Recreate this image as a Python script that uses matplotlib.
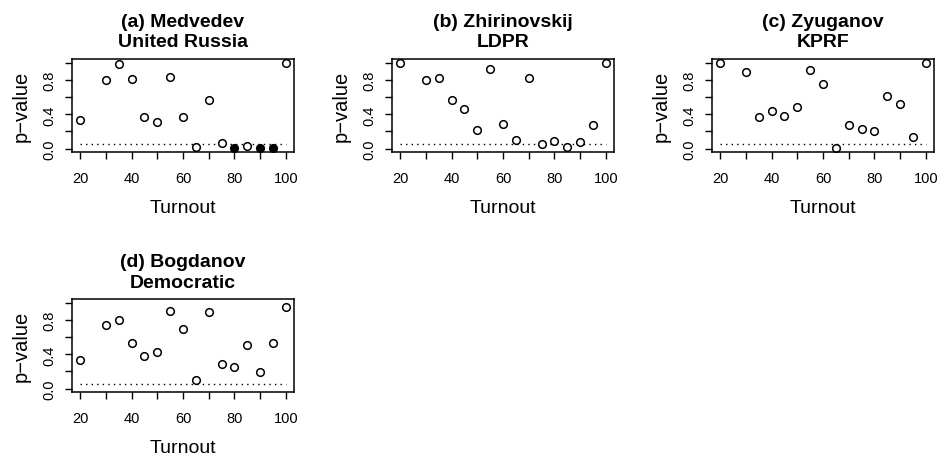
import matplotlib
matplotlib.use("Agg")
import matplotlib.pyplot as plt

plt.rcParams['font.family'] = ['Liberation Sans', 'DejaVu Sans']

turnout = [20, 30, 35, 40, 45, 50, 55, 60, 65, 70, 75, 80, 85, 90, 95, 100]

titles = ["(a) Medvedev\nUnited Russia",
          "(b) Zhirinovskij\nLDPR",
          "(c) Zyuganov\nKPRF",
          "(d) Bogdanov\nDemocratic"]

p_medvedev = [0.334, 0.80, 0.994, 0.81, 0.37, 0.315, 0.84, 0.365, 0.015,
              0.567, 0.062, 0.003, 0.03, 0.002, 0.002, 1.0]
p_zhirinovskij = [1.0, 0.796, 0.827, 0.563, 0.462, 0.217, 0.928, 0.287, 0.10,
                  0.82, 0.058, 0.089, 0.023, 0.082, 0.28, 1.0]
p_zyuganov = [1.0, 0.89, 0.365, 0.44, 0.377, 0.49, 0.917, 0.757, 0.012,
              0.272, 0.229, 0.21, 0.617, 0.517, 0.136, 1.0]
p_bogdanov = [0.338, 0.738, 0.796, 0.532, 0.377, 0.423, 0.905, 0.691, 0.10,
              0.893, 0.283, 0.249, 0.505, 0.19, 0.536, 0.948]

# points drawn filled (significant after correction)
filled_medvedev = [False] * 11 + [True, False, True, True, False]
no_fill = [False] * 16

pvals = [p_medvedev, p_zhirinovskij, p_zyuganov, p_bogdanov]
fills = [filled_medvedev, no_fill, no_fill, no_fill]

alpha = 0.05
xticks = [20, 30, 40, 50, 60, 70, 80, 90, 100]
xlabels = ["20", "", "40", "", "60", "", "80", "", "100"]
yticks = [0.0, 0.2, 0.4, 0.6, 0.8, 1.0]
ylabels = ["0.0", "", "0.4", "", "0.8", ""]

W, H = 939, 460
fig = plt.figure(figsize=(W / 100, H / 100), dpi=100)

# panel boxes in pixels: left, top
boxes = [(72, 60), (392, 60), (712, 60), (72, 300)]
bw, bh = 222, 93

for (left, top), title, p, fill in zip(boxes, titles, pvals, fills):
    ax = fig.add_axes([left / W, (H - top - bh) / H, bw / W, bh / H])
    ax.plot([turnout[0], turnout[-1]], [alpha, alpha], color="black",
            lw=1, linestyle=(0, (1, 3)))
    xo = [x for x, f in zip(turnout, fill) if not f]
    yo = [y for y, f in zip(p, fill) if not f]
    xf = [x for x, f in zip(turnout, fill) if f]
    yf = [y for y, f in zip(p, fill) if f]
    ax.plot(xo, yo, "o", mfc="white", mec="black", ms=5.5, mew=1.1,
            linestyle="none")
    if xf:
        ax.plot(xf, yf, "o", mfc="black", mec="black", ms=5.5, mew=1.1,
                linestyle="none")
    ax.set_xlim(16.8, 103.2)
    ax.set_ylim(-0.04, 1.047)
    ax.set_xticks(xticks)
    ax.set_xticklabels(xlabels)
    ax.set_yticks(yticks)
    ax.set_yticklabels(ylabels, rotation=90, va="center")
    ax.tick_params(direction="out", length=5, width=1, labelsize=10.5)
    ax.tick_params(axis="x", pad=9)
    ax.tick_params(axis="y", pad=6)
    for s in ax.spines.values():
        s.set_linewidth(1.1)
    ax.set_xlabel("Turnout", fontsize=14, labelpad=10)
    ax.set_ylabel("p\u2212value", fontsize=14.5, labelpad=9)
    ax.set_title(title, fontsize=14, fontweight="bold", linespacing=1.3,
                 pad=9)

fig.savefig("out.png", dpi=100)
